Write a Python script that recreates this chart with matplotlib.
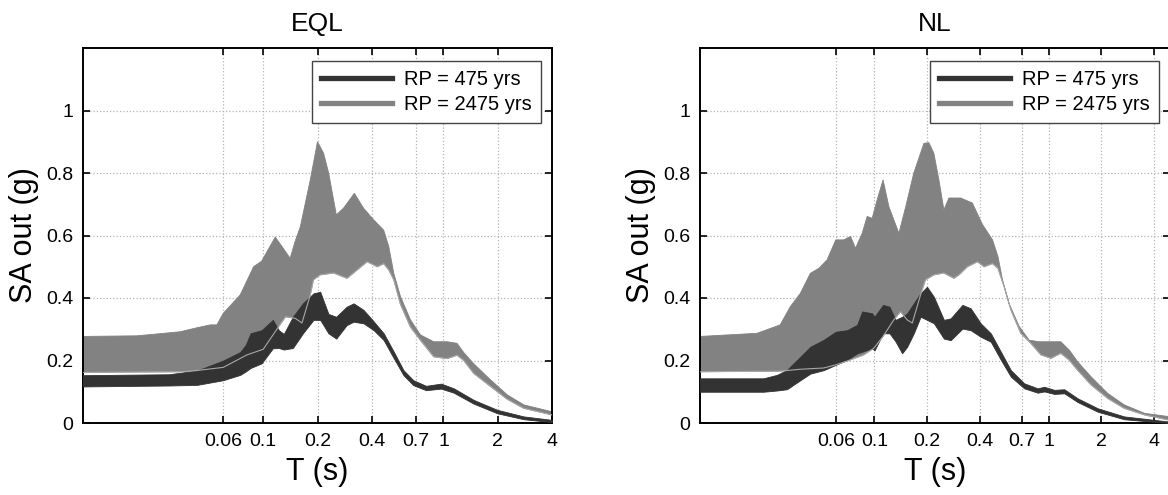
import numpy as np
import matplotlib
matplotlib.use('Agg')
import matplotlib.pyplot as plt
from matplotlib.lines import Line2D
from matplotlib.ticker import FixedLocator, FixedFormatter, NullLocator

plt.rcParams['font.family'] = ['Liberation Sans', 'DejaVu Sans']

# ---- EQL: RP = 2475 yrs band (upper / lower envelope) ----
eql_t_2475_up = [0.01, 0.02, 0.0346, 0.043, 0.0508, 0.0553, 0.06, 0.0745, 0.0884, 0.098,
                 0.1166, 0.127, 0.141, 0.15, 0.1606, 0.1824, 0.2, 0.2163, 0.2306, 0.2545,
                 0.2793, 0.3203, 0.3607, 0.41, 0.466, 0.497, 0.53, 0.577, 0.656, 0.745,
                 0.883, 1.049, 1.19, 1.297, 1.47, 1.825, 2.26, 2.79, 4.0]
eql_2475_up = [0.277, 0.279, 0.292, 0.305, 0.314, 0.314, 0.351, 0.41, 0.50, 0.518,
               0.595, 0.565, 0.527, 0.58, 0.628, 0.778, 0.90, 0.863, 0.80, 0.666,
               0.688, 0.735, 0.687, 0.65, 0.617, 0.565, 0.479, 0.405, 0.33, 0.282,
               0.26, 0.26, 0.255, 0.225, 0.19, 0.138, 0.09, 0.058, 0.036]
eql_t_2475_lo = [0.01, 0.035, 0.0428, 0.06, 0.0812, 0.1, 0.1216, 0.133, 0.1506, 0.164,
                 0.1824, 0.19, 0.207, 0.246, 0.292, 0.3167, 0.377, 0.43, 0.466, 0.497,
                 0.53, 0.577, 0.656, 0.745, 0.883, 1.049, 1.19, 1.297, 1.47, 1.825,
                 2.26, 2.79, 4.0]
eql_2475_lo = [0.162, 0.164, 0.168, 0.178, 0.218, 0.236, 0.308, 0.34, 0.335, 0.32,
               0.41, 0.458, 0.474, 0.48, 0.463, 0.48, 0.516, 0.50, 0.51, 0.49,
               0.458, 0.38, 0.307, 0.265, 0.212, 0.206, 0.217, 0.20, 0.159, 0.117,
               0.076, 0.047, 0.026]

# ---- EQL: RP = 475 yrs band ----
eql_t_475 = [0.01, 0.03, 0.043, 0.06, 0.0745, 0.08, 0.085, 0.098, 0.113, 0.122,
             0.13, 0.146, 0.166, 0.19, 0.207, 0.23, 0.254, 0.29, 0.317, 0.36,
             0.41, 0.466, 0.53, 0.6, 0.68, 0.8, 0.97, 1.14, 1.47, 1.99,
             2.79, 4.0]
eql_475_up = [0.153, 0.156, 0.168, 0.20, 0.227, 0.25, 0.287, 0.297, 0.33, 0.297,
              0.285, 0.34, 0.383, 0.415, 0.42, 0.349, 0.34, 0.372, 0.383, 0.362,
              0.325, 0.287, 0.228, 0.169, 0.137, 0.119, 0.126, 0.111, 0.074, 0.042,
              0.021, 0.01]
eql_475_lo = [0.117, 0.12, 0.122, 0.137, 0.154, 0.165, 0.176, 0.191, 0.239, 0.24,
              0.235, 0.24, 0.287, 0.33, 0.33, 0.287, 0.27, 0.313, 0.324, 0.319,
              0.297, 0.265, 0.207, 0.153, 0.121, 0.105, 0.11, 0.097, 0.062, 0.031,
              0.012, 0.003]

# ---- NL: RP = 2475 yrs band ----
nl_t_2475_up = [0.01, 0.0212, 0.0288, 0.0329, 0.0376, 0.0429, 0.048, 0.0535, 0.06, 0.0666,
                0.073, 0.0778, 0.085, 0.0908, 0.097, 0.1036, 0.112, 0.121, 0.138, 0.151,
                0.168, 0.192, 0.205, 0.219, 0.234, 0.25, 0.267, 0.312, 0.364, 0.416,
                0.475, 0.51, 0.542, 0.59, 0.675, 0.77, 0.88, 1.027, 1.17, 1.309,
                1.46, 1.743, 2.17, 2.7, 3.53, 4.94]
nl_2475_up = [0.277, 0.287, 0.314, 0.372, 0.415, 0.479, 0.495, 0.522, 0.586, 0.586,
              0.597, 0.559, 0.607, 0.661, 0.655, 0.714, 0.778, 0.692, 0.607, 0.692,
              0.80, 0.895, 0.897, 0.863, 0.778, 0.682, 0.72, 0.72, 0.704, 0.635,
              0.586, 0.533, 0.458, 0.383, 0.309, 0.265, 0.26, 0.26, 0.26, 0.233,
              0.196, 0.148, 0.095, 0.058, 0.031, 0.02]
nl_t_2475_lo = [0.01, 0.0288, 0.0376, 0.0511, 0.06, 0.0728, 0.0868, 0.099, 0.112, 0.129,
                0.141, 0.154, 0.1647, 0.1837, 0.196, 0.219, 0.25, 0.2856, 0.305, 0.341,
                0.389, 0.425, 0.475, 0.51, 0.553, 0.605, 0.69, 0.788, 0.9, 1.027,
                1.17, 1.309, 1.46, 1.743, 2.17, 2.7, 3.53, 4.81]
nl_2475_lo = [0.164, 0.166, 0.172, 0.176, 0.186, 0.202, 0.218, 0.239, 0.277, 0.33,
              0.356, 0.33, 0.32, 0.41, 0.458, 0.474, 0.48, 0.463, 0.474, 0.50,
              0.516, 0.50, 0.51, 0.495, 0.437, 0.362, 0.287, 0.255, 0.218, 0.207,
              0.223, 0.201, 0.169, 0.122, 0.079, 0.047, 0.026, 0.01]

# ---- NL: RP = 475 yrs band ----
nl_t_475 = [0.01, 0.0231, 0.0276, 0.0315, 0.0376, 0.0429, 0.0511, 0.06, 0.0697, 0.0795,
            0.085, 0.097, 0.1, 0.112, 0.122, 0.132, 0.144, 0.154, 0.168, 0.1837,
            0.2, 0.219, 0.25, 0.2734, 0.319, 0.356, 0.406, 0.464, 0.53, 0.605,
            0.721, 0.861, 0.94, 1.073, 1.224, 1.46, 1.905, 2.7, 4.81]
nl_475_up = [0.143, 0.143, 0.154, 0.17, 0.212, 0.244, 0.266, 0.292, 0.297, 0.314,
             0.357, 0.351, 0.34, 0.378, 0.372, 0.33, 0.34, 0.351, 0.383, 0.415,
             0.436, 0.404, 0.33, 0.335, 0.378, 0.367, 0.319, 0.287, 0.228, 0.169,
             0.127, 0.111, 0.116, 0.106, 0.108, 0.079, 0.047, 0.021, 0.005]
nl_475_lo = [0.10, 0.10, 0.104, 0.108, 0.137, 0.158, 0.169, 0.186, 0.202, 0.223,
             0.228, 0.239, 0.232, 0.287, 0.287, 0.261, 0.223, 0.244, 0.287, 0.34,
             0.33, 0.319, 0.27, 0.265, 0.302, 0.297, 0.276, 0.26, 0.202, 0.148,
             0.111, 0.097, 0.101, 0.093, 0.095, 0.067, 0.036, 0.012, 0.0]

x_ticks = [0.06, 0.1, 0.2, 0.4, 0.7, 1, 2, 4]
x_tick_labels = ['0.06', '0.1', '0.2', '0.4', '0.7', '1', '2', '4']
y_ticks = [0, 0.2, 0.4, 0.6, 0.8, 1.0]
y_tick_labels = ['0', '0.2', '0.4', '0.6', '0.8', '1']

DARK = '#333333'
GRAY = '#828282'
EDGE = '#a8a8a8'


def band(ax, t_up, up, t_lo, lo, color):
    xs = list(t_up) + list(t_lo)[::-1]
    ys = list(up) + list(lo)[::-1]
    ax.fill(xs, ys, color=color, lw=0.6, ec=color, zorder=2)


def panel(ax, title, xmax, bands475, bands2475):
    band(ax, *bands2475, GRAY)
    t475, up475, lo475 = bands475
    ax.fill_between(t475, lo475, up475, color=DARK, lw=0.6, ec=DARK, zorder=3)
    # lower edge of the 2475 envelope stays visible over the 475 band
    ax.plot(bands2475[2], bands2475[3], color=EDGE, lw=0.8, zorder=4)

    ax.set_xscale('log')
    ax.set_xlim(0.01, xmax)
    ax.set_ylim(0, 1.2)
    ax.xaxis.set_major_locator(FixedLocator(x_ticks))
    ax.xaxis.set_major_formatter(FixedFormatter(x_tick_labels))
    ax.xaxis.set_minor_locator(NullLocator())
    ax.set_yticks(y_ticks)
    ax.set_yticklabels(y_tick_labels)
    ax.tick_params(direction='in', top=True, right=True, length=5, width=1.2,
                   labelsize=14, pad=7)
    ax.grid(True, ls=':', color='#b5b5b5', lw=0.9)
    ax.set_axisbelow(True)
    for s in ax.spines.values():
        s.set_linewidth(1.4)
    ax.set_title(title, fontsize=19, pad=12)
    ax.set_xlabel('T (s)', fontsize=22, labelpad=5)
    ax.set_ylabel('SA out (g)', fontsize=22, labelpad=5)

    handles = [Line2D([], [], color=DARK, lw=3.8),
               Line2D([], [], color=GRAY, lw=3.8)]
    leg = ax.legend(handles, ['RP = 475 yrs', 'RP = 2475 yrs'], loc='upper right',
                    bbox_to_anchor=(0.976, 0.965), borderaxespad=0, fontsize=14.5,
                    handlelength=3.5, handletextpad=0.6, labelspacing=0.3,
                    borderpad=0.45, fancybox=False, framealpha=1)
    leg.get_frame().set_edgecolor('#444444')
    leg.get_frame().set_linewidth(1.0)


W, H = 1168, 495
fig = plt.figure(figsize=(W / 100, H / 100), dpi=100)
ax1 = fig.add_axes([83 / W, 72 / H, 469 / W, 375 / H])
ax2 = fig.add_axes([700 / W, 72 / H, 470 / W, 375 / H])

panel(ax1, 'EQL', 4.0,
      (eql_t_475, eql_475_up, eql_475_lo),
      (eql_t_2475_up, eql_2475_up, eql_t_2475_lo, eql_2475_lo))
panel(ax2, 'NL', 4.94,
      (nl_t_475, nl_475_up, nl_475_lo),
      (nl_t_2475_up, nl_2475_up, nl_t_2475_lo, nl_2475_lo))

fig.savefig('out.png', dpi=100)
